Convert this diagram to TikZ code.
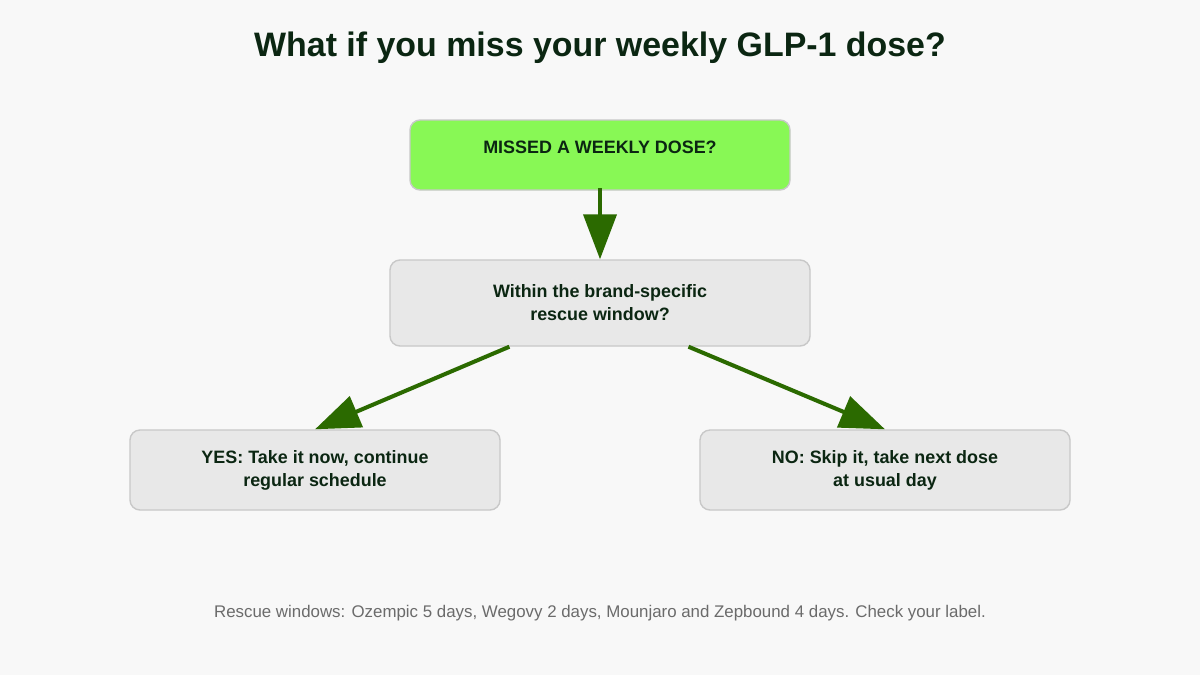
\documentclass[tikz,border=0pt]{standalone}
\usepackage{fontspec}
\setmainfont{Liberation Sans}
\usetikzlibrary{arrows.meta}
\usetikzlibrary{calc}
\usetikzlibrary{positioning}
\definecolor{pagebg}{HTML}{F8F8F8}
\definecolor{boxfill}{HTML}{E8E8E8}
\definecolor{boxline}{HTML}{C8C8C8}
\definecolor{startfill}{HTML}{88F855}
\definecolor{flowline}{HTML}{2B6A00}
\definecolor{inktext}{HTML}{0B2612}
\definecolor{notetext}{HTML}{6B6B6B}
\begin{document}
\begin{tikzpicture}
  [stage/.style={shape=rectangle,rounded corners=0.2cm,draw=boxline,fill=boxfill,
         line width=0.8pt,align=center,text=inktext,inner sep=0pt,
         font=\fontsize{10.2}{13}\selectfont\bfseries},
  flow/.style={draw=flowline,line width=2.3pt,
         -{Triangle[length=0.9cm,width=0.66cm]}},
  auto
  ]
  \fill[pagebg] (0,0) rectangle (24,-13.5);
  \useasboundingbox (0,0) rectangle (24,-13.5);

  \node (title) [font=\fontsize{19.3}{22}\selectfont\bfseries, text=inktext]
     at (12,-0.95) {What if you miss your weekly GLP-1 dose?};
 \path
   (12,-3.1) node (missed) [stage, fill=startfill, minimum width=7.6cm, minimum height=1.4cm]
        {\raisebox{0.3cm}{MISSED A WEEKLY DOSE?}}
   (12,-6.06) node (window) [stage, minimum width=8.4cm, minimum height=1.72cm]
        {Within the brand-specific\\rescue window?}
   (6.3,-9.4) node (yes) [stage, minimum width=7.4cm, minimum height=1.6cm]
        {YES: Take it now, continue\\regular schedule}
   (17.7,-9.4) node (no) [stage, minimum width=7.4cm, minimum height=1.6cm]
        {NO: Skip it, take next dose\\at usual day}
   ;
  \node (note) [text=notetext, font=\fontsize{9.6}{11}\selectfont] at (12,-12.27)
     {Rescue windows: Ozempic 5 days, Wegovy 2 days, Mounjaro and Zepbound 4 days. Check your label.};

   \draw [flow] ($(missed.south)+(0,0.05)$) to (window.north);
   \draw [flow] ($(window.south)!0.43!(window.south west)$) to (yes.north);
   \draw [flow] ($(window.south)!0.42!(window.south east)$) to (no.north);

\end{tikzpicture}
\end{document}
